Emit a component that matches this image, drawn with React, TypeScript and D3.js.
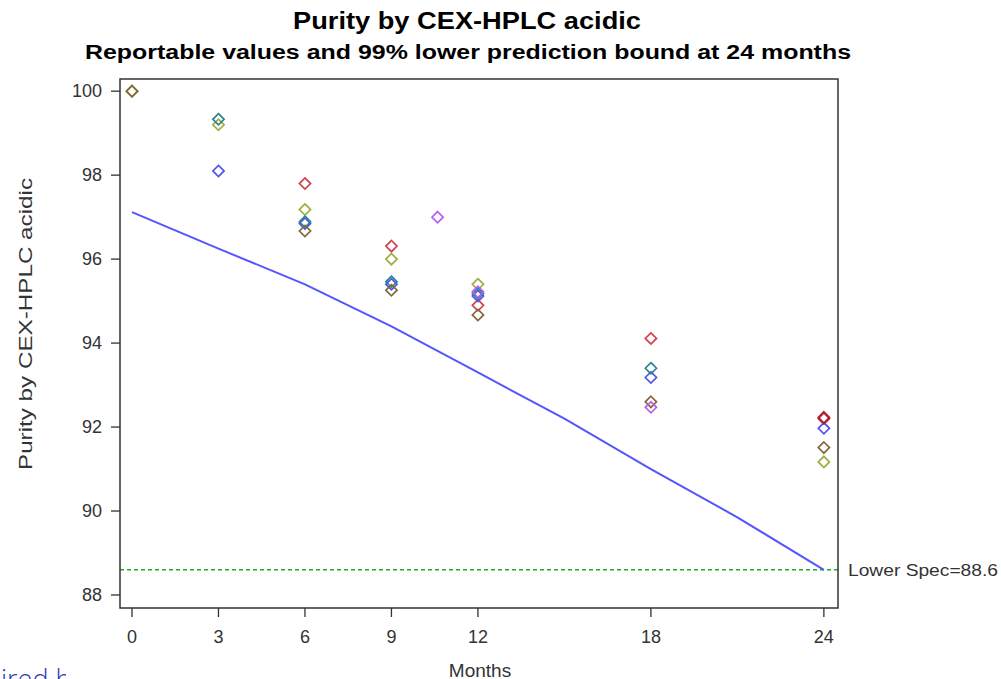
import React from "react";
import * as d3 from "d3";

const months = [0, 3, 6, 9, 12, 18, 24];
const xTicks = [0, 3, 6, 9, 12, 18, 24];
const yTicks = [88, 90, 92, 94, 96, 98, 100];

// Batch reportable values (null = not visible / hidden)
const brownVals = [100, null, 96.67, 95.26, 94.67, 92.6, 91.51];
const oliveVals = [100, 99.2, 97.18, 96.0, 95.4, null, 91.17];
const tealVals = [null, 99.33, 96.89, 95.46, 95.18, 93.4, null];
const blueVals = [null, 98.1, 96.85, 95.4, 95.12, 93.18, 91.97];
const redVals = [null, null, 97.8, 96.31, 94.9, 94.11, 92.2];
const purpleMonths = [10.6, 12, 18];
const purpleVals = [97.0, 95.22, 92.47];
const darkRedMonths = [24];
const darkRedVals = [92.23];

// 99% lower prediction bound
const boundMonths = [0, 3, 6, 9, 12, 15, 18, 21, 24];
const boundVals = [97.12, 96.25, 95.4, 94.4, 93.3, 92.2, 91.0, 89.85, 88.6];

const lowerSpec = 88.6;

const W = 1001;
const H = 679;
const L = 120, R = 838, T = 79, B = 608;

const x = d3.scaleLinear().domain([-0.416, 24.49]).range([L, R]);
const y = d3.scaleLinear().domain([87.69, 100.29]).range([B, T]);

type Pt = { m: number; v: number };
const toPts = (vals: (number | null)[]) =>
  months.map((m, i) => ({ m, v: vals[i] })).filter((p) => p.v != null) as Pt[];

const series: { color: string; pts: Pt[] }[] = [
  { color: "#9fae3e", pts: toPts(oliveVals) },
  { color: "#d0424f", pts: toPts(redVals) },
  { color: "#5252ee", pts: toPts(blueVals) },
  { color: "#2a8494", pts: toPts(tealVals) },
  { color: "#85683a", pts: toPts(brownVals) },
  { color: "#b860ea", pts: purpleMonths.map((m, i) => ({ m, v: purpleVals[i] })) },
  { color: "#a31e30", pts: darkRedMonths.map((m, i) => ({ m, v: darkRedVals[i] })) },
];

const diamond = (cx: number, cy: number, r: number) =>
  `M${cx},${cy - r}L${cx + r},${cy}L${cx},${cy + r}L${cx - r},${cy}Z`;

export default function App() {
  const line = d3
    .line<number>()
    .x((_, i) => x(boundMonths[i]))
    .y((d) => y(d));
  const font = "'Liberation Sans', Arial, sans-serif";
  return (
    <svg width={W} height={H} style={{ position: "absolute", left: 0, top: 0 }}>
      <rect width={W} height={H} fill="#fff" />
      <text x={467} y={29} textAnchor="middle" fontFamily={font} fontWeight="bold" fontSize={23}
        textLength={348} lengthAdjust="spacingAndGlyphs" fill="#000">Purity by CEX-HPLC acidic</text>
      <text x={468} y={59} textAnchor="middle" fontFamily={font} fontWeight="bold" fontSize={20}
        textLength={766} lengthAdjust="spacingAndGlyphs" fill="#000">Reportable values and 99% lower prediction bound at 24 months</text>

      {/* lower spec */}
      <line x1={L} x2={R} y1={y(lowerSpec)} y2={y(lowerSpec)} stroke="#22aa22" strokeWidth={1.5} strokeDasharray="4,3" />
      <text x={848} y={y(lowerSpec) + 6} fontFamily={font} fontSize={17} textLength={150}
        lengthAdjust="spacingAndGlyphs" fill="#333">Lower Spec=88.6</text>

      {/* prediction bound */}
      <path d={line(boundVals) || ""} fill="none" stroke="#5555ff" strokeWidth={2} />

      {series.map((s, si) =>
        s.pts.map((p, pi) => (
          <path key={`${si}-${pi}`} d={diamond(x(p.m), y(p.v), 5.6)} fill="none" stroke={s.color} strokeWidth={1.7} />
        ))
      )}

      {/* frame */}
      <rect x={L} y={T} width={R - L} height={B - T} fill="none" stroke="#333" strokeWidth={1.5} />

      {/* y axis */}
      {yTicks.map((t) => (
        <g key={t}>
          <line x1={L - 9} x2={L} y1={y(t)} y2={y(t)} stroke="#333" strokeWidth={1.3} />
          <text x={102} y={y(t) + 6} textAnchor="end" fontFamily={font} fontSize={18} fill="#333">{t}</text>
        </g>
      ))}
      {/* x axis */}
      {xTicks.map((t) => (
        <g key={t}>
          <line x1={x(t)} x2={x(t)} y1={B} y2={B + 9} stroke="#333" strokeWidth={1.3} />
          <text x={x(t)} y={643} textAnchor="middle" fontFamily={font} fontSize={18} fill="#333">{t}</text>
        </g>
      ))}
      <text x={480} y={677} textAnchor="middle" fontFamily={font} fontSize={19} fill="#333">Months</text>
      <text transform="translate(32,324) rotate(-90)" textAnchor="middle" fontFamily={font} fontSize={19}
        textLength={292} lengthAdjust="spacingAndGlyphs" fill="#333">Purity by CEX-HPLC acidic</text>

      <defs>
        <clipPath id="cut">
          <rect x={0} y={640} width={66} height={40} />
        </clipPath>
      </defs>
      <text x={1} y={689} clipPath="url(#cut)" fontFamily="'Open Sans', sans-serif" fontWeight={300} fontSize={27} fill="#2b3bb0">ired by</text>
    </svg>
  );
}
